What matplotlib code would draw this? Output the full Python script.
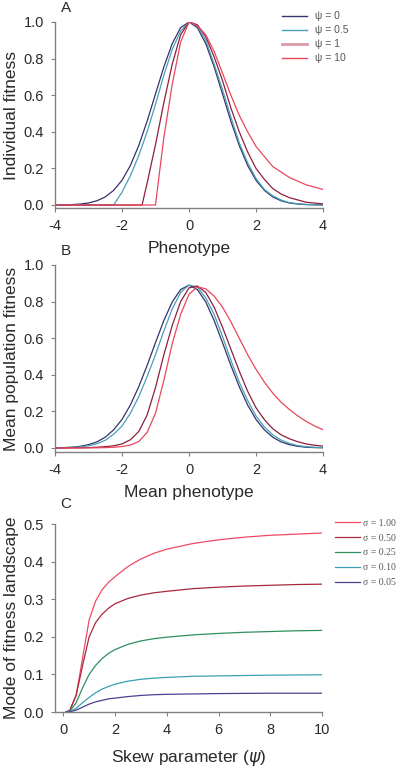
"""Skewed fitness landscape: individual fitness, mean fitness and mode shift."""

import matplotlib

matplotlib.use("Agg")
import matplotlib.pyplot as plt
from matplotlib.lines import Line2D


FIG_W_PX = 400
FIG_H_PX = 767

# Panel A: individual fitness against phenotype.
PHENOTYPE_GRID = [
    -4, -3.75, -3.5, -3.25, -3, -2.75, -2.5, -2.25, -2, -1.75, -1.5, -1.25,
    -1, -0.75, -0.5, -0.25, 0, 0.25, 0.5, 0.75, 1, 1.25, 1.5, 1.75, 2, 2.25,
    2.5, 2.75, 3, 3.25, 3.5, 3.75, 4,
]
FITNESS_PSI_0 = [
    0.0003, 0.0009, 0.0022, 0.0051, 0.011, 0.023, 0.044, 0.080, 0.135, 0.216,
    0.325, 0.458, 0.607, 0.755, 0.882, 0.969, 1.0, 0.969, 0.882, 0.755,
    0.607, 0.458, 0.325, 0.216, 0.135, 0.080, 0.044, 0.023, 0.011, 0.0051,
    0.0022, 0.0009, 0.0003,
]
FITNESS_PSI_05 = [
    0, 0, 0, 0, 0, 0, 0, 0, 0.07, 0.16, 0.27, 0.40, 0.55, 0.71, 0.85, 0.95,
    1.0, 0.98, 0.90, 0.77, 0.63, 0.48, 0.34, 0.23, 0.145, 0.085, 0.05, 0.027,
    0.013, 0.007, 0.003, 0.0015, 0.001,
]
PHENOTYPE_PSI_1 = [
    -4, -1.4, -1.25, -1, -0.75, -0.5, -0.25, 0, 0.25, 0.5, 0.75, 1, 1.25,
    1.5, 1.75, 2, 2.25, 2.5, 2.75, 3, 3.5, 4,
]
FITNESS_PSI_1 = [
    0, 0, 0.12, 0.33, 0.56, 0.77, 0.93, 1.0, 0.985, 0.92, 0.81, 0.68, 0.53,
    0.40, 0.29, 0.20, 0.14, 0.09, 0.06, 0.04, 0.015, 0.006,
]
PHENOTYPE_PSI_10 = [
    -4, -1.0, -0.9, -0.75, -0.5, -0.25, 0, 0.25, 0.5, 0.75, 1, 1.25, 1.5,
    1.75, 2, 2.5, 3, 3.5, 4,
]
FITNESS_PSI_10 = [
    0, 0, 0.15, 0.37, 0.66, 0.89, 1.0, 0.98, 0.93, 0.84, 0.72, 0.60, 0.49,
    0.40, 0.32, 0.21, 0.15, 0.11, 0.085,
]

# Panel B: mean population fitness against mean phenotype.
MEAN_FITNESS_PSI_0 = [
    0.001, 0.002, 0.004, 0.009, 0.018, 0.033, 0.059, 0.099, 0.156, 0.235,
    0.335, 0.451, 0.576, 0.697, 0.798, 0.866, 0.89, 0.866, 0.798, 0.697,
    0.576, 0.451, 0.335, 0.235, 0.156, 0.099, 0.059, 0.033, 0.018, 0.009,
    0.004, 0.002, 0.001,
]
MEAN_FITNESS_PSI_05 = [
    0.0005, 0.001, 0.003, 0.006, 0.012, 0.023, 0.042, 0.075, 0.12, 0.19,
    0.28, 0.39, 0.51, 0.64, 0.76, 0.85, 0.89, 0.88, 0.82, 0.73, 0.61, 0.48,
    0.36, 0.26, 0.175, 0.115, 0.072, 0.043, 0.025, 0.013, 0.007, 0.004,
    0.002,
]
MEAN_FITNESS_PSI_1 = [
    0, 0, 0.0005, 0.001, 0.002, 0.004, 0.007, 0.012, 0.022, 0.045, 0.09,
    0.18, 0.33, 0.51, 0.67, 0.80, 0.875, 0.885, 0.85, 0.77, 0.66, 0.54, 0.42,
    0.31, 0.22, 0.155, 0.105, 0.072, 0.05, 0.034, 0.022, 0.015, 0.01,
]
MEAN_FITNESS_PSI_10 = [
    0, 0, 0, 0, 0.0005, 0.001, 0.002, 0.004, 0.008, 0.016, 0.035, 0.085,
    0.19, 0.37, 0.57, 0.73, 0.84, 0.88, 0.87, 0.83, 0.77, 0.69, 0.60, 0.51,
    0.43, 0.36, 0.30, 0.25, 0.21, 0.175, 0.145, 0.12, 0.10,
]

PSI_LABELS = ["\u03c8 = 0", "\u03c8 = 0.5", "\u03c8 = 1", "\u03c8 = 10"]
PSI_COLORS = ["#33336e", "#4a9fb5", "#8e1f3f", "#e8475c"]

# Panel C: mode of the fitness landscape against the skew parameter.
SKEW = [
    0.1, 0.25, 0.5, 0.75, 1, 1.25, 1.5, 1.75, 2, 2.5, 3, 3.5, 4, 5, 6, 7, 8,
    9, 10,
]
MODE_SIGMA_100 = [
    0, 0.004, 0.045, 0.145, 0.245, 0.295, 0.325, 0.345, 0.36, 0.387, 0.407,
    0.422, 0.433, 0.448, 0.458, 0.465, 0.47, 0.473, 0.476,
]
MODE_SIGMA_050 = [
    0, 0.004, 0.045, 0.125, 0.2, 0.238, 0.26, 0.276, 0.288, 0.302, 0.311,
    0.317, 0.321, 0.328, 0.332, 0.335, 0.337, 0.339, 0.34,
]
MODE_SIGMA_025 = [
    0, 0.002, 0.025, 0.065, 0.1, 0.124, 0.142, 0.156, 0.166, 0.18, 0.189,
    0.195, 0.199, 0.205, 0.209, 0.212, 0.214, 0.216, 0.217,
]
MODE_SIGMA_010 = [
    0, 0.001, 0.01, 0.025, 0.039, 0.051, 0.061, 0.068, 0.074, 0.082, 0.087,
    0.09, 0.092, 0.095, 0.096, 0.097, 0.098, 0.0985, 0.099,
]
MODE_SIGMA_005 = [
    0, 0.0005, 0.005, 0.013, 0.021, 0.027, 0.031, 0.035, 0.037, 0.041, 0.044,
    0.046, 0.047, 0.048, 0.049, 0.0495, 0.05, 0.05, 0.05,
]
SIGMA_LABELS = [
    "\u03c3 = 1.00", "\u03c3 = 0.50", "\u03c3 = 0.25", "\u03c3 = 0.10",
    "\u03c3 = 0.05",
]
SIGMA_COLORS = ["#ee4a63", "#a8283f", "#2f8f5f", "#3a9fb5", "#4d3f8f"]

SPINE_COLOR = "#808080"
TEXT_COLOR = "#2a2a2a"
LABEL_SIZE = 12.5
TICK_SIZE = 10.5


def px_axes(fig, left, top, right, bottom):
  """Adds axes whose edges are given in image pixels."""
  return fig.add_axes([
      left / FIG_W_PX,
      1 - bottom / FIG_H_PX,
      (right - left) / FIG_W_PX,
      (bottom - top) / FIG_H_PX,
  ])


def style_axis(ax):
  for side in ("top", "right"):
    ax.spines[side].set_visible(False)
  for side in ("left", "bottom"):
    ax.spines[side].set_color(SPINE_COLOR)
    ax.spines[side].set_linewidth(1.0)
  ax.tick_params(
      direction="out", length=3, width=0.8, color=SPINE_COLOR,
      labelsize=TICK_SIZE, labelcolor=TEXT_COLOR, pad=5,
  )
  ax.patch.set_alpha(0)


def main():
  plt.rcParams["font.family"] = ["Liberation Sans", "DejaVu Sans"]
  plt.rcParams["axes.unicode_minus"] = False

  fig = plt.figure(figsize=(FIG_W_PX / 100, FIG_H_PX / 100), dpi=100)

  # Panel A
  ax_a = px_axes(fig, 55, 22, 323, 208)
  series_a = [
      (PHENOTYPE_GRID, FITNESS_PSI_0),
      (PHENOTYPE_GRID, FITNESS_PSI_05),
      (PHENOTYPE_PSI_1, FITNESS_PSI_1),
      (PHENOTYPE_PSI_10, FITNESS_PSI_10),
  ]
  for (x, y), color in zip(series_a, PSI_COLORS):
    ax_a.plot(x, y, color=color, linewidth=0.9)
  ax_a.set_xlim(-4, 4)
  ax_a.set_ylim(-0.0164, 1.0)
  ax_a.set_xticks([-4, -2, 0, 2, 4])
  ax_a.set_yticks([0, 0.2, 0.4, 0.6, 0.8, 1.0])
  ax_a.yaxis.set_major_formatter(plt.FormatStrFormatter("%.1f"))
  style_axis(ax_a)
  ax_a.set_xlabel("Phenotype", fontsize=LABEL_SIZE, color=TEXT_COLOR,
                  labelpad=6)
  ax_a.set_ylabel("Individual fitness", fontsize=LABEL_SIZE,
                  color=TEXT_COLOR, labelpad=3)

  handles = [
      Line2D([], [], color=PSI_COLORS[0], linewidth=1.0),
      Line2D([], [], color=PSI_COLORS[1], linewidth=1.0),
      Line2D([], [], color="#d99aa3", linewidth=2.0),
      Line2D([], [], color=PSI_COLORS[3], linewidth=1.0),
  ]
  fig.legend(
      handles, PSI_LABELS, loc="upper left",
      bbox_to_anchor=(273 / FIG_W_PX, 1 - 2 / FIG_H_PX), frameon=False,
      fontsize=7.5, handlelength=2.4, handletextpad=0.7, labelspacing=0.38,
      labelcolor="#555555",
  )

  # Panel B
  ax_b = px_axes(fig, 55, 265, 323, 452)
  series_b = [
      MEAN_FITNESS_PSI_0, MEAN_FITNESS_PSI_05, MEAN_FITNESS_PSI_1,
      MEAN_FITNESS_PSI_10,
  ]
  for y, color in zip(series_b, PSI_COLORS):
    ax_b.plot(PHENOTYPE_GRID, y, color=color, linewidth=0.9)
  ax_b.set_xlim(-4, 4)
  ax_b.set_ylim(-0.022, 1.0)
  ax_b.set_xticks([-4, -2, 0, 2, 4])
  ax_b.set_yticks([0, 0.2, 0.4, 0.6, 0.8, 1.0])
  ax_b.yaxis.set_major_formatter(plt.FormatStrFormatter("%.1f"))
  style_axis(ax_b)
  ax_b.set_xlabel("Mean phenotype", fontsize=LABEL_SIZE, color=TEXT_COLOR,
                  labelpad=6)
  ax_b.set_ylabel("Mean population fitness", fontsize=LABEL_SIZE,
                  color=TEXT_COLOR, labelpad=3)

  # Panel C
  ax_c = px_axes(fig, 55, 524, 322, 712)
  series_c = [
      MODE_SIGMA_100, MODE_SIGMA_050, MODE_SIGMA_025, MODE_SIGMA_010,
      MODE_SIGMA_005,
  ]
  for y, color, label in zip(series_c, SIGMA_COLORS, SIGMA_LABELS):
    ax_c.plot(SKEW, y, color=color, linewidth=0.9, label=label)
  ax_c.set_xlim(-0.32, 10)
  ax_c.set_ylim(0, 0.5)
  ax_c.set_xticks([0, 2, 4, 6, 8, 10])
  ax_c.set_yticks([0, 0.1, 0.2, 0.3, 0.4, 0.5])
  ax_c.yaxis.set_major_formatter(plt.FormatStrFormatter("%.1f"))
  style_axis(ax_c)
  ax_c.set_xlabel("Skew parameter ($\\psi$)", fontsize=LABEL_SIZE,
                  color=TEXT_COLOR, labelpad=8)
  ax_c.set_ylabel("Mode of fitness landscape", fontsize=LABEL_SIZE,
                  color=TEXT_COLOR, labelpad=3)
  fig.legend(
      *ax_c.get_legend_handles_labels(), loc="upper left",
      bbox_to_anchor=(326 / FIG_W_PX, 1 - 510 / FIG_H_PX), frameon=False,
      prop={"family": "Liberation Serif", "size": 7},
      handlelength=2.6, handletextpad=0.35, labelspacing=0.6,
      labelcolor="#555555",
  )

  for letter, x_px, y_px in (("A", 66, 8), ("B", 66, 251), ("C", 66, 504)):
    fig.text(x_px / FIG_W_PX, 1 - y_px / FIG_H_PX, letter, ha="center",
             va="center", fontsize=11, color=TEXT_COLOR)

  fig.savefig("out.png", dpi=100)
  plt.close(fig)


if __name__ == "__main__":
  main()
